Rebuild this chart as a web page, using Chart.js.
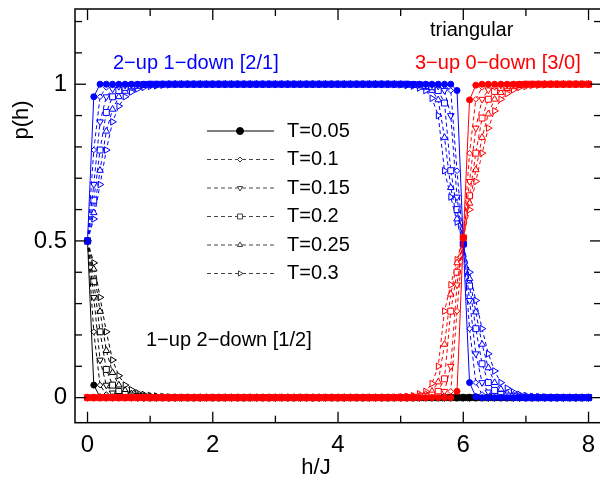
<!DOCTYPE html>
<html>
<head>
<meta charset="utf-8">
<script src="https://cdn.jsdelivr.net/npm/chart.js@4.4.1/dist/chart.umd.min.js"></script>
<style>
  html, body { margin: 0; padding: 0; background: #fff; }
  canvas { display: block; }
</style>
</head>
<body>
<canvas id="pChart" width="600" height="483"></canvas>
<script>
// p(h) de configuraciones locales, red triangular
const rep = (v, n) => Array(n).fill(v);

const hValues = [
    0, 0.1, 0.2, 0.3, 0.4, 0.5, 0.6, 0.7, 0.8, 0.9,
    1, 1.1, 1.2, 1.3, 1.4, 1.5, 1.6, 1.7, 1.8, 1.9,
    2, 2.1, 2.2, 2.3, 2.4, 2.5, 2.6, 2.7, 2.8, 2.9,
    3, 3.1, 3.2, 3.3, 3.4, 3.5, 3.6, 3.7, 3.8, 3.9,
    4, 4.1, 4.2, 4.3, 4.4, 4.5, 4.6, 4.7, 4.8, 4.9,
    5, 5.1, 5.2, 5.3, 5.4, 5.5, 5.6, 5.7, 5.8, 5.9,
    6, 6.1, 6.2, 6.3, 6.4, 6.5, 6.6, 6.7, 6.8, 6.9,
    7, 7.1, 7.2, 7.3, 7.4, 7.5, 7.6, 7.7, 7.8, 7.9,
    8
];

const tempLabels = ['T=0.05', 'T=0.1', 'T=0.15', 'T=0.2', 'T=0.25', 'T=0.3'];

// 1-up 2-down [1/2]
const black005 = [0.5, 0.04, 0.002, ...rep(0, 78)];
const black01  = [0.5, 0.21, 0.04, 0.01, 0.003, ...rep(0, 76)];
const black015 = [0.5, 0.32, 0.12, 0.04, 0.015, 0.007, 0.003, 0.001, ...rep(0, 73)];
const black02  = [0.5, 0.37, 0.21, 0.09, 0.04, 0.02, 0.01, 0.005, 0.003, 0.001, ...rep(0, 71)];
const black025 = [0.5, 0.41, 0.275, 0.15, 0.08, 0.04, 0.023, 0.012, 0.007, 0.004, 0.003, 0.002, 0.001, ...rep(0, 68)];
const black03  = [0.5, 0.43, 0.32, 0.21, 0.12, 0.07, 0.04, 0.025, 0.015, 0.01, 0.007, 0.005, 0.003, 0.002, 0.001, ...rep(0, 66)];

// 2-up 1-down [2/1]
const blue005 = [0.5, 0.96, ...rep(1, 57), 0.98, 0.49, 0.048, 0.003, ...rep(0, 18)];
const blue01  = [0.5, 0.79, 0.96, 0.99, 0.997, ...rep(1, 51), 0.999, 0.996, 0.98, 0.724,
                 0.49, 0.22, 0.048, 0.01, 0.003, ...rep(0, 16)];
const blue015 = [0.5, 0.68, 0.88, 0.96, 0.985, 0.993, 0.997, 0.999, ...rep(1, 47),
                 0.998, 0.994, 0.98, 0.90, 0.64,
                 0.49, 0.31, 0.14, 0.048, 0.018, 0.007, 0.003, 0.001, ...rep(0, 13)];
const blue02  = [0.5, 0.63, 0.79, 0.91, 0.96, 0.98, 0.99, 0.995, 0.997, 0.999, ...rep(1, 42),
                 0.999, 0.998, 0.996, 0.992, 0.98, 0.94, 0.724, 0.60,
                 0.49, 0.356, 0.22, 0.108, 0.048, 0.023, 0.01, 0.005, 0.003, 0.001, ...rep(0, 11)];
const blue025 = [0.5, 0.59, 0.725, 0.85, 0.92, 0.96, 0.977, 0.988, 0.993, 0.996, 0.997, 0.998, 0.999, ...rep(1, 37),
                 0.999, 0.998, 0.997, 0.995, 0.99, 0.98, 0.95, 0.83, 0.67, 0.57,
                 0.49, 0.38, 0.273, 0.17, 0.095, 0.048, 0.027, 0.014, 0.008, 0.005, 0.003, 0.002, 0.001, ...rep(0, 8)];
const blue03  = [0.5, 0.57, 0.68, 0.79, 0.88, 0.93, 0.96, 0.975, 0.985, 0.99, 0.993, 0.995, 0.997, 0.998, 0.999, ...rep(1, 34),
                 0.999, 0.998, 0.996, 0.994, 0.988, 0.98, 0.955, 0.90, 0.724, 0.64, 0.56,
                 0.49, 0.40, 0.31, 0.22, 0.14, 0.085, 0.048, 0.03, 0.018, 0.01, 0.007, 0.004, 0.003, 0.002, 0.001, ...rep(0, 6)];

// 3-up 0-down [3/0]
const red005 = [...rep(0, 59), 0.02, 0.51, 0.95, 0.997, ...rep(1, 18)];
const red01  = [...rep(0, 56), 0.001, 0.004, 0.02, 0.276, 0.51, 0.78, 0.952, 0.99, 0.997, ...rep(1, 16)];
const red015 = [...rep(0, 54), 0.001, 0.002, 0.006, 0.02, 0.10, 0.36,
                0.51, 0.69, 0.86, 0.952, 0.982, 0.993, 0.997, 0.999, ...rep(1, 13)];
const red02  = [...rep(0, 52), 0.001, 0.002, 0.004, 0.008, 0.02, 0.06, 0.276, 0.40,
                0.51, 0.644, 0.78, 0.892, 0.952, 0.977, 0.99, 0.995, 0.997, 0.999, ...rep(1, 11)];
const red025 = [...rep(0, 50), 0.001, 0.002, 0.003, 0.005, 0.01, 0.02, 0.05, 0.17, 0.33, 0.43,
                0.51, 0.62, 0.727, 0.83, 0.905, 0.952, 0.973, 0.986, 0.992, 0.995, 0.997, 0.998, 0.999, ...rep(1, 8)];
const red03  = [...rep(0, 49), 0.001, 0.002, 0.004, 0.006, 0.012, 0.02, 0.045, 0.10, 0.276, 0.36, 0.44,
                0.51, 0.60, 0.69, 0.78, 0.86, 0.915, 0.952, 0.97, 0.982, 0.99, 0.993, 0.996, 0.997, 0.998, 0.999, ...rep(1, 6)];

const xTickVals = [0, 2, 4, 6, 8];
const xMinorVals = [1, 3, 5, 7];
const yTickVals = [0, 0.5, 1];
const yMinorVals = [0.1, 0.2, 0.3, 0.4, 0.6, 0.7, 0.8, 0.9, 1.1, 1.2];

// el marco derecho cae fuera del lienzo (h = 8.2)
const X_MIN = -0.2, X_VIEW_MAX = 8.1, X_FRAME_MAX = 8.2;

const FONT = '"Liberation Sans", Arial, Helvetica, sans-serif';

// estilo de marcador por temperatura
const markers = [
    { style: 'circle',   rot: 0,   r: 3,   lr: 3.5 },
    { style: 'rectRot',  rot: 0,   r: 2.8, lr: 2.5 },
    { style: 'triangle', rot: 180, r: 3.8, lr: 3 },
    { style: 'rect',     rot: 0,   r: 4.2, lr: 3.5 },
    { style: 'triangle', rot: 0,   r: 3.8, lr: 3 },
    { style: 'triangle', rot: 90,  r: 3.8, lr: 3 }
];

function makeSet(label, values, color, k) {
    const m = markers[k];
    return {
        label: label,
        data: hValues.map((h, i) => ({ x: h, y: values[i] })),
        borderColor: color,
        borderWidth: 1,
        borderDash: k === 0 ? [] : [4, 3],
        pointStyle: m.style,
        pointRotation: m.rot,
        pointRadius: m.r,
        pointBorderWidth: 1,
        pointBorderColor: color,
        pointBackgroundColor: k === 0 ? color : '#fff',
        tension: 0
    };
}

const redSeries = [red005, red01, red015, red02, red025, red03];
const blueSeries = [blue005, blue01, blue015, blue02, blue025, blue03];
const blackSeries = [black005, black01, black015, black02, black025, black03];

// el primer dataset se dibuja encima
const datasets = [
    ...redSeries.map((s, k) => makeSet('[3/0] ' + tempLabels[k], s, '#ff0000', k)),
    ...blueSeries.map((s, k) => makeSet('[2/1] ' + tempLabels[k], s, '#0000ff', k)),
    ...blackSeries.map((s, k) => makeSet('[1/2] ' + tempLabels[k], s, '#000000', k))
];

const framePlugin = {
    id: 'frame',
    afterDatasetsDraw(chart) {
        const { ctx, chartArea: a, scales: { x, y } } = chart;
        const right = x.getPixelForValue(X_FRAME_MAX);
        ctx.save();
        ctx.strokeStyle = '#000';
        ctx.lineWidth = 1.5;
        ctx.strokeRect(a.left, a.top, right - a.left, a.bottom - a.top);

        ctx.lineWidth = 1.3;
        const tick = (px, py, dx, dy) => {
            ctx.beginPath();
            ctx.moveTo(px, py);
            ctx.lineTo(px + dx, py + dy);
            ctx.stroke();
        };
        xTickVals.forEach(v => {
            const p = x.getPixelForValue(v);
            tick(p, a.bottom, 0, -11);
            tick(p, a.top, 0, 11);
        });
        xMinorVals.forEach(v => {
            const p = x.getPixelForValue(v);
            tick(p, a.bottom, 0, -7);
            tick(p, a.top, 0, 7);
        });
        yTickVals.forEach(v => {
            const p = y.getPixelForValue(v);
            tick(a.left, p, 11, 0);
            tick(right, p, -11, 0);
        });
        yMinorVals.forEach(v => {
            const p = y.getPixelForValue(v);
            tick(a.left, p, 7, 0);
            tick(right, p, -7, 0);
        });
        ctx.restore();
    },
    afterDraw(chart) {
        const ctx = chart.ctx;
        ctx.save();
        ctx.textBaseline = 'middle';
        ctx.textAlign = 'left';
        ctx.font = '20px ' + FONT;

        // etiquetas dentro del gráfico
        ctx.fillStyle = '#000';
        ctx.fillText('triangular', 430, 30);
        ctx.fillText('1\u2212up 2\u2212down [1/2]', 146, 340);
        ctx.fillStyle = '#0000ff';
        ctx.fillText('2\u2212up 1\u2212down [2/1]', 113, 63);
        ctx.fillStyle = '#ff0000';
        ctx.fillText('3\u2212up 0\u2212down [3/0]', 415, 63);

        // leyenda
        tempLabels.forEach((lab, k) => {
            const yy = 131 + k * 28.5;
            const m = markers[k];
            ctx.strokeStyle = k === 0 ? '#000' : '#444';
            ctx.lineWidth = 1;
            ctx.setLineDash(k === 0 ? [] : [4, 3]);
            ctx.beginPath();
            ctx.moveTo(207, yy);
            ctx.lineTo(274, yy);
            ctx.stroke();
            ctx.setLineDash([]);
            ctx.fillStyle = k === 0 ? '#000' : '#fff';
            Chart.helpers.drawPoint(ctx, {
                pointStyle: m.style, rotation: m.rot, radius: m.lr, borderWidth: 1
            }, 240, yy);
            ctx.fillStyle = '#000';
            ctx.fillText(lab, 287, yy);
        });

        // títulos de ejes
        ctx.font = '22px ' + FONT;
        ctx.textAlign = 'center';
        ctx.fillText('h/J', 316, 468);
        ctx.translate(22, 120);
        ctx.rotate(-Math.PI / 2);
        ctx.fillText('p(h)', 0, 0);
        ctx.restore();
    }
};

new Chart(document.getElementById('pChart'), {
    type: 'line',
    data: { datasets: datasets },
    options: {
        responsive: false,
        devicePixelRatio: 1,
        animation: false,
        layout: { padding: { top: 9, right: 0, left: 0, bottom: 0 } },
        plugins: { legend: { display: false }, tooltip: { enabled: false } },
        scales: {
            x: {
                type: 'linear',
                min: X_MIN,
                max: X_VIEW_MAX,
                grid: { display: false, drawTicks: false },
                border: { display: false },
                afterBuildTicks: s => { s.ticks = xTickVals.map(v => ({ value: v })); },
                afterFit: s => { s.height = 60.3; s.paddingLeft = 0; s.paddingRight = 0; },
                ticks: {
                    color: '#000',
                    padding: 8,
                    maxRotation: 0,
                    font: { family: FONT, size: 24 },
                    callback: v => String(v)
                }
            },
            y: {
                type: 'linear',
                min: -0.08,
                max: 1.24,
                grid: { display: false, drawTicks: false },
                border: { display: false },
                afterBuildTicks: s => { s.ticks = yTickVals.map(v => ({ value: v })); },
                afterFit: s => { s.width = 75; s.paddingTop = 0; s.paddingBottom = 0; },
                ticks: {
                    color: '#000',
                    padding: 8,
                    font: { family: FONT, size: 24 },
                    callback: v => String(v)
                }
            }
        }
    },
    plugins: [framePlugin]
});
</script>
</body>
</html>
